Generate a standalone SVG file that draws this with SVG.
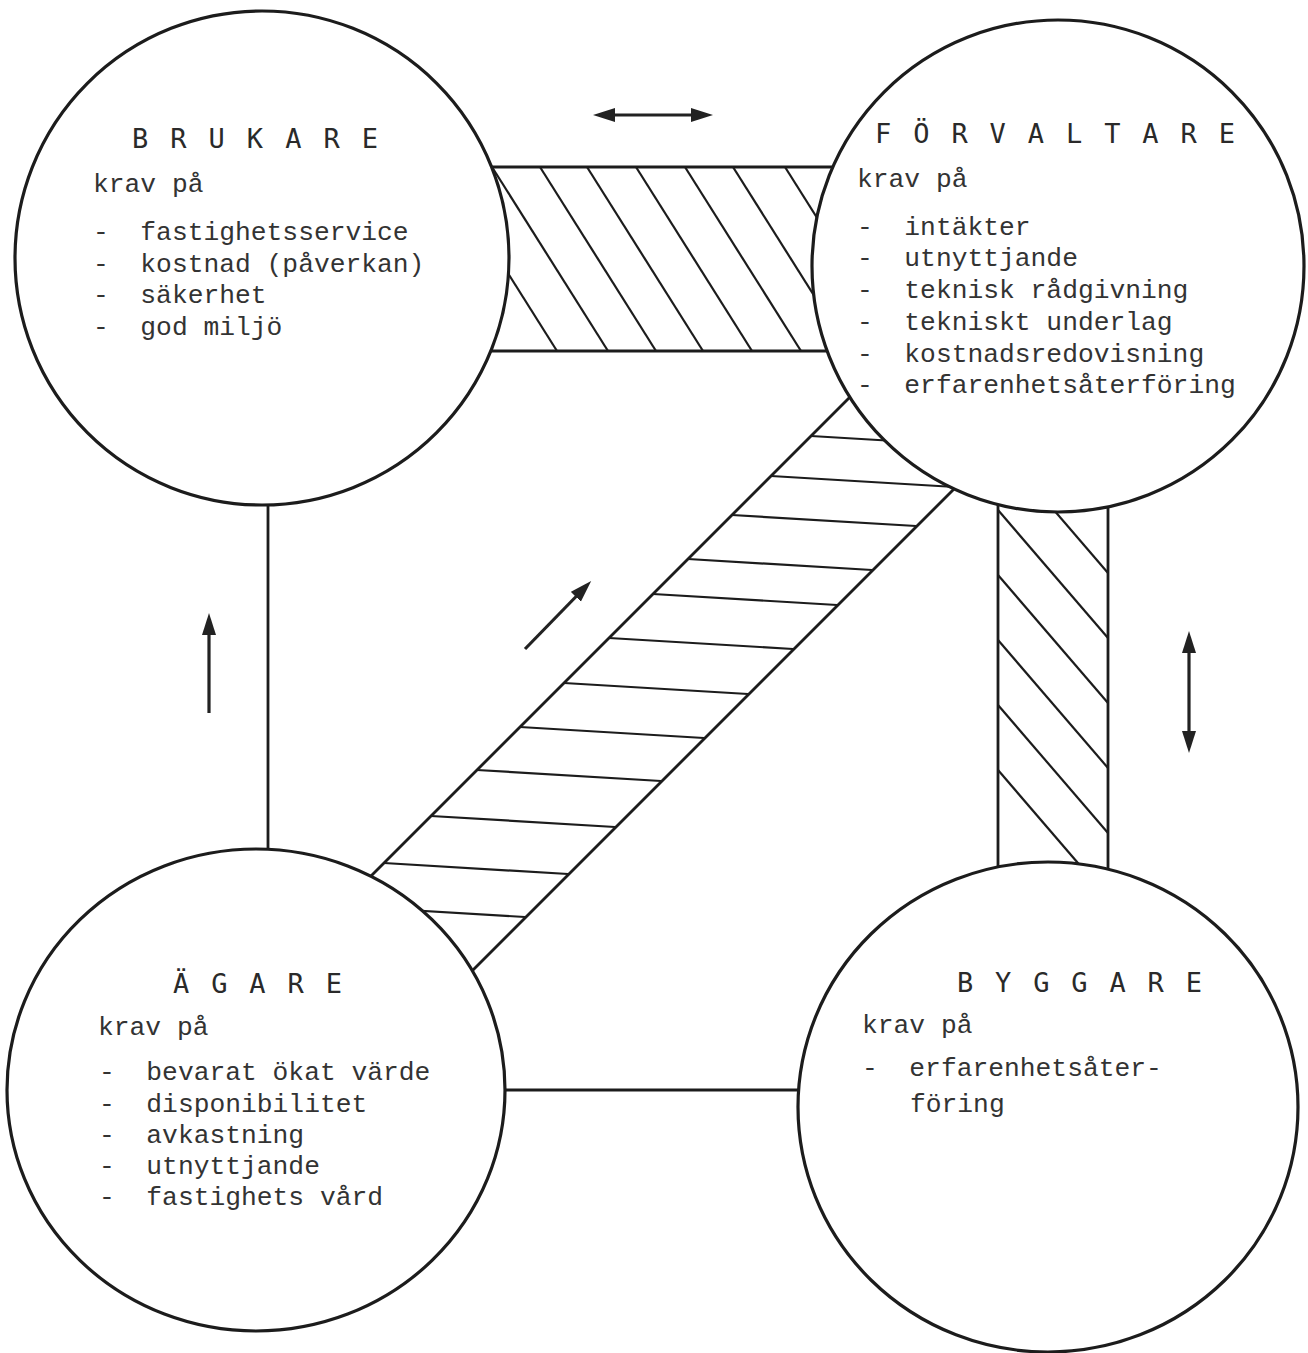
<svg xmlns="http://www.w3.org/2000/svg" width="1308" height="1353" viewBox="0 0 1308 1353">
<style>
.edge{fill:none;stroke:#1c1c1c;stroke-width:2.8;stroke-linecap:butt}
.hatch{fill:none;stroke:#1c1c1c;stroke-width:2.2}
.arrow{fill:none;stroke:#222;stroke-width:3.2}
.node{fill:#ffffff;stroke:#1c1c1c;stroke-width:3.2}
.title{font-family:"DejaVu Sans Mono","Liberation Mono",monospace;font-size:27px;fill:#2a2a2a}
.body{font-family:"Liberation Mono","Courier New",monospace;font-size:26.3px;fill:#333}
</style>
<defs>
<marker id="ah" markerUnits="userSpaceOnUse" markerWidth="24" markerHeight="16" refX="6" refY="7" orient="auto-start-reverse" viewBox="0 0 24 16">
<path d="M0,0 L22,7 L0,14 Z" fill="#222"/>
</marker>
</defs>
<rect x="0" y="0" width="1308" height="1353" fill="#ffffff"/>
<g id="connectors">
<!-- top hatched band BRUKARE - FÖRVALTARE -->
<line class="edge" x1="470" y1="167" x2="850" y2="167"/>
<line class="edge" x1="470" y1="351" x2="850" y2="351"/>
<line class="hatch" x1="441" y1="167" x2="557" y2="351"/>
<line class="hatch" x1="492" y1="167" x2="608" y2="351"/>
<line class="hatch" x1="540" y1="167" x2="656" y2="351"/>
<line class="hatch" x1="587" y1="167" x2="703" y2="351"/>
<line class="hatch" x1="636" y1="167" x2="752" y2="351"/>
<line class="hatch" x1="685" y1="167" x2="801" y2="351"/>
<line class="hatch" x1="733" y1="167" x2="849" y2="351"/>
<line class="hatch" x1="785" y1="167" x2="901" y2="351"/>
<!-- right hatched band FÖRVALTARE - BYGGARE -->
<line class="edge" x1="998" y1="490" x2="998" y2="885"/>
<line class="edge" x1="1108" y1="490" x2="1108" y2="885"/>
<line class="hatch" x1="998" y1="445" x2="1108" y2="573"/>
<line class="hatch" x1="998" y1="510" x2="1108" y2="638"/>
<line class="hatch" x1="998" y1="575" x2="1108" y2="703"/>
<line class="hatch" x1="998" y1="640" x2="1108" y2="768"/>
<line class="hatch" x1="998" y1="705" x2="1108" y2="833"/>
<line class="hatch" x1="998" y1="770" x2="1108" y2="898"/>
<!-- diagonal hatched band ÄGARE - FÖRVALTARE -->
<line class="edge" x1="350" y1="897" x2="870" y2="377"/>
<line class="edge" x1="450" y1="993" x2="975" y2="468"/>
<line class="hatch" x1="811" y1="436" x2="995" y2="447"/>
<line class="hatch" x1="771" y1="476" x2="955" y2="487"/>
<line class="hatch" x1="732" y1="515" x2="916" y2="526"/>
<line class="hatch" x1="688" y1="559" x2="872" y2="570"/>
<line class="hatch" x1="653" y1="594" x2="837" y2="605"/>
<line class="hatch" x1="609" y1="638" x2="793" y2="649"/>
<line class="hatch" x1="564" y1="683" x2="748" y2="694"/>
<line class="hatch" x1="520" y1="727" x2="704" y2="738"/>
<line class="hatch" x1="477" y1="770" x2="661" y2="781"/>
<line class="hatch" x1="431" y1="816" x2="615" y2="827"/>
<line class="hatch" x1="384" y1="863" x2="568" y2="874"/>
<line class="hatch" x1="341" y1="906" x2="525" y2="917"/>
<!-- plain links -->
<line class="edge" x1="268" y1="495" x2="268" y2="860"/>
<line class="edge" x1="495" y1="1090" x2="812" y2="1090"/>
<!-- arrows -->
<line class="arrow" x1="609" y1="115" x2="697" y2="115" marker-start="url(#ah)" marker-end="url(#ah)"/>
<line class="arrow" x1="209" y1="713" x2="209" y2="629" marker-end="url(#ah)"/>
<line class="arrow" x1="525" y1="649" x2="580" y2="592.5" marker-end="url(#ah)"/>
<line class="arrow" x1="1189" y1="647" x2="1189" y2="737" marker-start="url(#ah)" marker-end="url(#ah)"/>
</g>
<g id="brukare">
<circle class="node" cx="262" cy="258" r="247"/>
<text class="title" x="132" y="148" textLength="246" lengthAdjust="spacing">B R U K A R E</text>
<text class="body" x="93" y="192">krav på</text>
<text class="body" x="93" y="240" xml:space="preserve">-  fastighetsservice</text>
<text class="body" x="93" y="272" xml:space="preserve">-  kostnad (påverkan)</text>
<text class="body" x="93" y="303" xml:space="preserve">-  säkerhet</text>
<text class="body" x="93" y="335" xml:space="preserve">-  god miljö</text>
</g>
<g id="forvaltare">
<circle class="node" cx="1058" cy="266" r="246"/>
<text class="title" x="875" y="143" textLength="360" lengthAdjust="spacing">F Ö R V A L T A R E</text>
<text class="body" x="857" y="187">krav på</text>
<text class="body" x="857" y="235" xml:space="preserve">-  intäkter</text>
<text class="body" x="857" y="266" xml:space="preserve">-  utnyttjande</text>
<text class="body" x="857" y="298" xml:space="preserve">-  teknisk rådgivning</text>
<text class="body" x="857" y="330" xml:space="preserve">-  tekniskt underlag</text>
<text class="body" x="857" y="362" xml:space="preserve">-  kostnadsredovisning</text>
<text class="body" x="857" y="393" xml:space="preserve">-  erfarenhetsåterföring</text>
</g>
<g id="agare">
<ellipse class="node" cx="256" cy="1090" rx="249" ry="241"/>
<text class="title" x="173" y="993" textLength="169" lengthAdjust="spacing">Ä G A R E</text>
<text class="body" x="98" y="1035">krav på</text>
<text class="body" x="99" y="1080" xml:space="preserve">-  bevarat ökat värde</text>
<text class="body" x="99" y="1112" xml:space="preserve">-  disponibilitet</text>
<text class="body" x="99" y="1143" xml:space="preserve">-  avkastning</text>
<text class="body" x="99" y="1174" xml:space="preserve">-  utnyttjande</text>
<text class="body" x="99" y="1205" xml:space="preserve">-  fastighets vård</text>
</g>
<g id="byggare">
<ellipse class="node" cx="1048" cy="1107" rx="250" ry="245"/>
<text class="title" x="957" y="992" textLength="245" lengthAdjust="spacing">B Y G G A R E</text>
<text class="body" x="862" y="1033">krav på</text>
<text class="body" x="862" y="1076" xml:space="preserve">-  erfarenhetsåter-</text>
<text class="body" x="910" y="1112">föring</text>
</g>
</svg>
